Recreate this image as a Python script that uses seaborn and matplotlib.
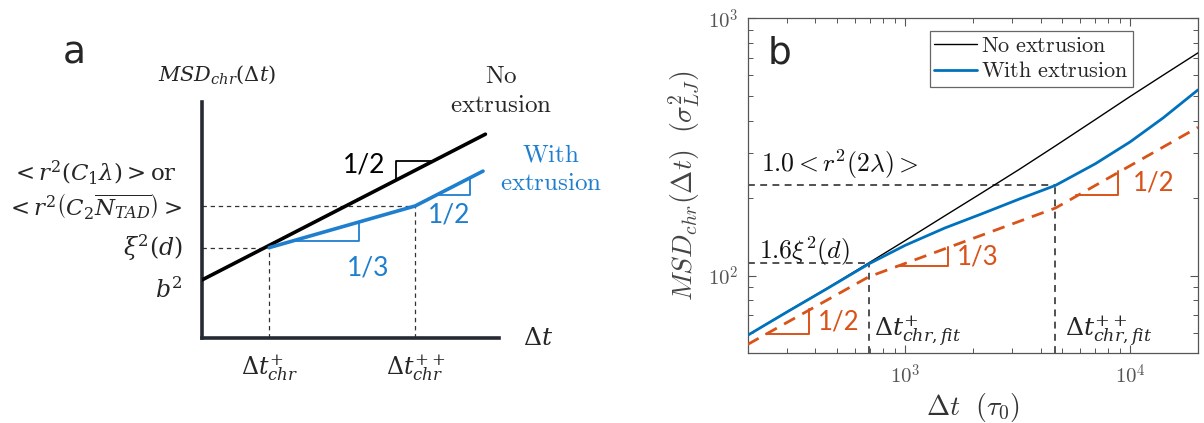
import numpy as np
import matplotlib
matplotlib.use("Agg")
import matplotlib.pyplot as plt
import matplotlib.transforms as mtransforms
from matplotlib.ticker import LogLocator, FuncFormatter, NullFormatter
from matplotlib.lines import Line2D
import seaborn as sns
import pandas as pd

# ---------------- data ----------------
# Panel a (schematic, arbitrary linear units)
a_no_ext_t = [0.0, 9.53]
a_no_ext_msd = [1.97, 6.91]
a_ext_t = [2.27, 7.17, 9.45]
a_ext_msd = [3.07, 4.48, 5.66]
a_b2 = 1.97
a_xi2 = 3.07
a_r2 = 4.48
a_t_plus = 2.27
a_t_pp = 7.17
a_black_slope = (6.53, 7.75)
a_blue_slopes = [(3.03, 5.27), (7.88, 9.01)]
a_slope_labels = ["1/2", "1/3", "1/2"]
a_slope_label_pos = [(5.47, 5.87), (5.58, 2.38), (8.31, 4.17)]

# Panel b (log-log data)
lag = [200, 300, 450, 690, 1000, 1500, 2200, 3200, 4650, 7000, 10000, 14000, 20000]
msd_no_ext = [58.6, 72.5, 89.2, 112, 136.7, 170.6, 210, 258, 319, 404, 497, 601, 734]
msd_ext = [58.6, 72.3, 88.9, 111, 131, 153, 174, 198, 224, 272, 331, 410, 527]
fit_lag = [200, 690, 4656, 20000]
fit_msd = [54, 98.9, 183, 377]
t_plus_fit = 690
t_pp_fit = 4656
xi2_level = 112
r2_level = 224
fit_slope_tri = [(241.5, 373, 59.4, 0.5), (924, 1545, 108.7, 1 / 3), (5740, 8810, 206, 0.5)]
fit_slope_labels = ["1/2", "1/3", "1/2"]
xi2_text = r"$1.6\xi^2(d)$"
r2_text = r"$1.0<r^2(2\lambda)>$"

# ---------------- style ----------------
sns.set_theme(style="white")
plt.rcParams["font.family"] = ["DejaVu Serif"]
plt.rcParams["mathtext.fontset"] = "cm"

W, H = 1204, 423
fig = plt.figure(figsize=(W / 100, H / 100), dpi=100)

BLUE_A = "#1f7fcf"
BLUE_B = "#0072BD"
ORANGE = "#D95319"
AXCOL = "#262b33"
SANS = ["Lato", "DejaVu Sans"]
mf = "dejavuserif"


def px_axes(l, t, r, b):
    return [l / W, 1 - b / H, (r - l) / W, (b - t) / H]


# ================= Panel a =================
axa = fig.add_axes(px_axes(201.7, 102, 499.4, 338.3))
axa.set_xlim(0, 10)
axa.set_ylim(0, 8)
for s in ["top", "right"]:
    axa.spines[s].set_visible(False)
for s in ["left", "bottom"]:
    axa.spines[s].set_color(AXCOL)
    axa.spines[s].set_linewidth(2.6)
axa.set_xticks([])
axa.set_yticks([])
axa.set_facecolor("none")

dash_a = dict(color="#333333", lw=0.9, ls=(0, (3.5, 3)), zorder=1)
axa.plot([0, a_t_plus], [a_xi2, a_xi2], **dash_a)
axa.plot([a_t_plus, a_t_plus], [0, a_xi2], **dash_a)
axa.plot([0, a_t_pp], [a_r2, a_r2], **dash_a)
axa.plot([a_t_pp, a_t_pp], [0, a_r2], **dash_a)

dfa = pd.DataFrame({"t": a_no_ext_t + a_ext_t,
                    "msd": a_no_ext_msd + a_ext_msd,
                    "kind": ["No"] * len(a_no_ext_t) + ["With"] * len(a_ext_t)})
sns.lineplot(data=dfa, x="t", y="msd", hue="kind", palette={"No": "black", "With": BLUE_A},
             linewidth=2.6, ax=axa, legend=False, sort=False, zorder=3)
axa.set_xlabel("")
axa.set_ylabel("")

# slope triangles
x1, x2 = a_black_slope
yb2 = np.interp(x2, a_no_ext_t, a_no_ext_msd)
axa.plot([x1, x1, x2], [np.interp(x1, a_no_ext_t, a_no_ext_msd), yb2, yb2], color="black", lw=1.3, zorder=2)
for (x1, x2) in a_blue_slopes:
    y1 = np.interp(x1, a_ext_t, a_ext_msd)
    y2 = np.interp(x2, a_ext_t, a_ext_msd)
    axa.plot([x1, x2, x2], [y1, y1, y2], color=BLUE_A, lw=1.3, zorder=2)
for lab, (lx, ly), c in zip(a_slope_labels, a_slope_label_pos, ["black", BLUE_A, BLUE_A]):
    axa.text(lx, ly, lab, color=c, fontsize=19, family=SANS, ha="center", va="center")

ty = axa.get_xaxis_transform()
axa.text(a_t_plus, -0.126, r"$\Delta t^{+}_{chr}$", transform=ty, ha="center", va="center",
         fontsize=17, math_fontfamily=mf)
axa.text(a_t_pp, -0.126, r"$\Delta t^{++}_{chr}$", transform=ty, ha="center", va="center",
         fontsize=17, math_fontfamily=mf)
tyy = axa.get_yaxis_transform()
axa.text(-0.063, a_b2 - 0.35, r"$b^2$", transform=tyy, ha="right", va="center", fontsize=17,
         math_fontfamily=mf)
axa.text(-0.063, a_xi2, r"$\xi^2(d)$", transform=tyy, ha="right", va="center", fontsize=17,
         math_fontfamily=mf)
axa.text(-0.362, a_r2, r"$<r^2\left(C_2\overline{N_{TAD}}\right)>$", transform=tyy, ha="center",
         va="center", fontsize=16.5, math_fontfamily=mf)
off = mtransforms.ScaledTranslation(0, 33 / 100, fig.dpi_scale_trans)
axa.text(-0.362, a_r2, r"$<r^2(C_1\lambda)>\mathrm{or}$", transform=tyy + off, ha="center",
         va="center", fontsize=16.5, math_fontfamily=mf)
axa.text(1.13, 0, r"$\Delta t$", transform=axa.transAxes, ha="center", va="center", fontsize=18,
         math_fontfamily=mf)
fig.text(217 / W, 1 - 75 / H, r"$MSD_{chr}(\Delta t)$", ha="center", va="center", fontsize=15,
         math_fontfamily=mf)
fig.text(501 / W, 1 - 91 / H, "$\\mathrm{No}$\n$\\mathrm{extrusion}$", ha="center", va="center",
         fontsize=18, linespacing=1.3)
fig.text(551 / W, 1 - 169 / H, "$\\mathrm{With}$\n$\\mathrm{extrusion}$", ha="center", va="center",
         fontsize=18, linespacing=1.3, color=BLUE_A)
fig.text(63 / W, 1 - 63 / H, "a", fontsize=27, family=["DejaVu Sans"], va="baseline", ha="left")

# ================= Panel b =================
axb = fig.add_axes(px_axes(747.7, 18.3, 1198, 353))
dfb = pd.DataFrame({"lag": lag + lag,
                    "msd": msd_no_ext + msd_ext,
                    "kind": ["No extrusion"] * len(lag) + ["With extrusion"] * len(lag)})
sns.lineplot(data=dfb, x="lag", y="msd", hue="kind",
             palette={"No extrusion": "black", "With extrusion": BLUE_B},
             ax=axb, legend=False, zorder=4)
lines = axb.get_lines()
lines[0].set_linewidth(1.0)
lines[1].set_linewidth(2.0)
lines[1].set_zorder(5)
sns.lineplot(x=fit_lag, y=fit_msd, ax=axb, color=ORANGE, linewidth=2.0, zorder=3)
axb.get_lines()[-1].set_dashes((4.5, 3))

axb.set_xscale("log")
axb.set_yscale("log")
axb.set_xlim(200, 2e4)
axb.set_ylim(50, 1000)

dash_b = dict(color="#222222", lw=1.1, ls=(0, (4.5, 3.5)), zorder=2)
axb.plot([200, t_plus_fit], [xi2_level, xi2_level], **dash_b)
axb.plot([t_plus_fit, t_plus_fit], [50, xi2_level], **dash_b)
axb.plot([200, t_pp_fit], [r2_level, r2_level], **dash_b)
axb.plot([t_pp_fit, t_pp_fit], [50, r2_level], **dash_b)

for (x1, x2, y1, s), lab, fx in zip(fit_slope_tri, fit_slope_labels, [1.10, 1.10, 1.17]):
    y2 = y1 * (x2 / x1) ** s
    axb.plot([x1, x2, x2], [y1, y1, y2], color=ORANGE, lw=1.4, zorder=3)
    axb.text(x2 * fx, np.sqrt(y1 * y2), lab, color=ORANGE, fontsize=18.5, family=SANS,
             ha="left", va="center")

axb.text(230, 270, r2_text, fontsize=18.5, ha="left", va="center", color="#111111")
axb.text(225, 124, xi2_text, fontsize=18.5, ha="left", va="center", color="#111111")
axb.text(727, 60.6, r"$\Delta t^{+}_{chr,fit}$", fontsize=18, ha="left", va="center",
         math_fontfamily=mf)
axb.text(5130, 60.6, r"$\Delta t^{++}_{chr,fit}$", fontsize=18, ha="left", va="center",
         math_fontfamily=mf)

axb.xaxis.set_major_locator(LogLocator(base=10, numticks=10))
axb.yaxis.set_major_locator(LogLocator(base=10, numticks=10))
axb.xaxis.set_minor_locator(LogLocator(base=10, subs=np.arange(2, 10), numticks=50))
axb.yaxis.set_minor_locator(LogLocator(base=10, subs=np.arange(2, 10), numticks=50))
fmt = FuncFormatter(lambda v, _: r"$10^{%d}$" % int(round(np.log10(v))))
axb.xaxis.set_major_formatter(fmt)
axb.yaxis.set_major_formatter(fmt)
axb.xaxis.set_minor_formatter(NullFormatter())
axb.yaxis.set_minor_formatter(NullFormatter())
axb.tick_params(which="both", direction="in", top=True, right=True, bottom=True, left=True,
                color="#555555", labelcolor="#555555", labelsize=15)
axb.tick_params(which="major", length=6, width=0.8)
axb.tick_params(which="minor", length=3.5, width=0.7)
axb.tick_params(axis="x", pad=8)
axb.tick_params(axis="y", pad=7)
for s in axb.spines.values():
    s.set_color("#555555")
    s.set_linewidth(0.9)

axb.set_xlabel(r"$\Delta t\ \ (\tau_0)$", fontsize=20, color="#333333", labelpad=2)
axb.set_ylabel(r"$MSD_{chr}(\Delta t)\ \ (\sigma_{LJ}^2)$", fontsize=20, color="#444444", labelpad=4)

handles = [Line2D([], [], color="black", lw=1.0), Line2D([], [], color=BLUE_B, lw=2.0)]
leg = axb.legend(handles, [r"$\mathrm{No\ extrusion}$", r"$\mathrm{With\ extrusion}$"],
                 loc="upper right", bbox_to_anchor=(0.856, 0.963), fontsize=16,
                 handlelength=1.9, handletextpad=0.2, labelspacing=0.15, borderpad=0.2,
                 borderaxespad=0, fancybox=False, framealpha=1, edgecolor="#666666")
leg.get_frame().set_linewidth(0.9)

fig.text(768 / W, 1 - 63 / H, "b", fontsize=27, family=["DejaVu Sans"], va="baseline", ha="left")

fig.savefig("out.png", dpi=100)
